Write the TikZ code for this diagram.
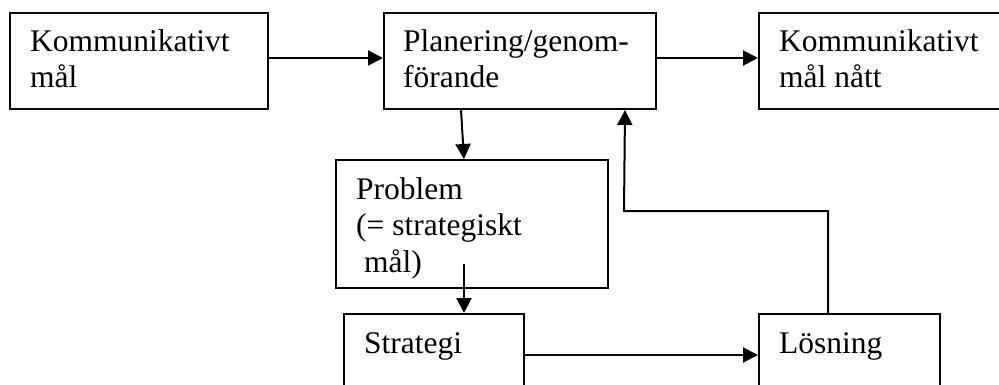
\documentclass[tikz,border=0pt]{standalone}
\usepackage{fontspec}
\setmainfont{Liberation Serif}
\usetikzlibrary{arrows.meta}
\begin{document}
\begin{tikzpicture}[x=1pt,y=-1pt,
  box/.style={draw,line width=2pt,rectangle,inner sep=0pt,anchor=north west},
  lbl/.style={anchor=base west,inner sep=0pt,align=left,font=\fontsize{31.5}{36.5}\selectfont},
  arr/.style={line width=2pt,-{Triangle[length=15pt,width=15pt]}}]
\useasboundingbox (0,0) rectangle (999,385);
\clip (0,0) rectangle (999,385);
\fill[white] (0,0) rectangle (999,385);
% boxes
\node[box,minimum width=258pt,minimum height=96pt] (b1) at (9,12) {};
\node[box,minimum width=272pt,minimum height=96pt] (b2) at (383,12) {};
\node[box,minimum width=260pt,minimum height=96pt] (b3) at (758,12) {};
\node[box,minimum width=272pt,minimum height=128pt] (b4) at (335,159) {};
\node[box,minimum width=180pt,minimum height=90pt] (b5) at (343,313) {};
\node[box,minimum width=181pt,minimum height=90pt] (b6) at (758,313) {};
% texts (anchored at the baseline of their last line)
\node[lbl] (t1) at (30,88) {Kommunikativt\\mål};
\node[lbl] (t2) at (403,88) {Planering/genom-\\förande};
\node[lbl] (t3) at (779,88) {Kommunikativt\\mål nått};
\node[lbl] (t4) at (356,272) {Problem\\(= strategiskt\\\ mål)};
\node[lbl] (t5) at (364,353) {Strategi};
\node[lbl] (t6) at (779,353) {Lösning};
% connectors
\draw[arr] ([yshift=3pt]b1.east) -- ([yshift=3pt]b2.west);
\draw[arr] ([yshift=3pt]b2.east) -- ([yshift=3pt]b3.west);
\draw[arr] ([xshift=-59pt]b2.south) -- ([xshift=-8pt]b4.north);
\draw[arr] ([xshift=-8pt,yshift=25pt]b4.south) -- ([xshift=30pt]b5.north);
\draw[arr] ([yshift=-42pt]b5.north east) -- ([yshift=-42pt]b6.north west);
\coordinate (turn) at (624,211);
\draw[arr] ([xshift=-21.5pt]b6.north) |- (turn) -- ([xshift=105pt]b2.south);
\end{tikzpicture}
\end{document}
